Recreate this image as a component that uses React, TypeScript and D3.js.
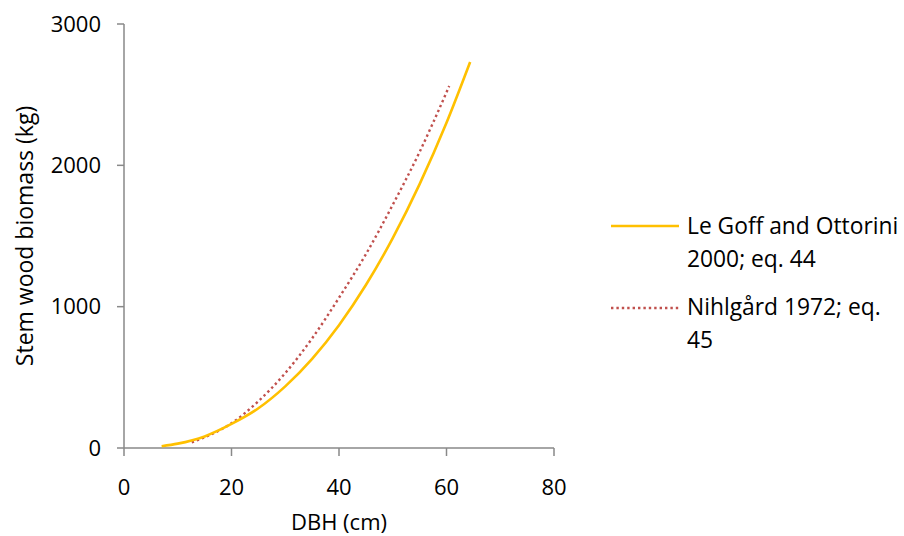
import React from "react";
import * as d3 from "d3";

const xTicks = [0, 20, 40, 60, 80];
const yTicks = [0, 1000, 2000, 3000];

const leGoffDbh = [7, 10, 15, 20, 25, 30, 35, 40, 45, 50, 55, 60, 64.4];
const leGoffBiomass = [13, 31, 82, 170, 281, 436, 631, 869, 1153, 1485, 1867, 2301, 2731];

const nihlgardDbh = [12.6, 15, 20, 25, 30, 35, 40, 45, 50, 55, 60, 60.5];
const nihlgardBiomass = [40, 76, 175, 331, 530, 776, 1063, 1371, 1721, 2095, 2517, 2561];

const seriesNames = ["Le Goff and Ottorini", "2000; eq. 44", "Nihlgård 1972; eq.", "45"];

const W = 904;
const H = 536;
const font = "'Open Sans', 'DejaVu Sans', sans-serif";

export default function App() {
  const x = d3.scaleLinear().domain([0, 80]).range([124, 554]);
  const y = d3.scaleLinear().domain([0, 3000]).range([448, 24]);
  const line = d3
    .line<[number, number]>()
    .x((d) => x(d[0]))
    .y((d) => y(d[1]))
    .curve(d3.curveMonotoneX);
  const gData: [number, number][] = leGoffDbh.map((d, i) => [d, leGoffBiomass[i]]);
  const nData: [number, number][] = nihlgardDbh.map((d, i) => [d, nihlgardBiomass[i]]);
  const axisColor = "#898989";
  const fs = 22;
  const lfs = 22.8;
  return (
    <svg
      width={W}
      height={H}
      style={{ position: "absolute", left: 0, top: 0, background: "#fff" }}
      fontFamily={font}
    >
      <rect width={W} height={H} fill="#fff" />
      {/* axes */}
      <line x1={x(0)} x2={x(0)} y1={y(3000)} y2={y(0)} stroke={axisColor} strokeWidth={1.5} />
      <line x1={x(0)} x2={x(80)} y1={y(0)} y2={y(0)} stroke={axisColor} strokeWidth={1.5} />
      {yTicks.map((t) => (
        <g key={"y" + t}>
          <line x1={x(0) - 7} x2={x(0)} y1={y(t)} y2={y(t)} stroke={axisColor} strokeWidth={1.5} />
          <text x={101} y={y(t)} dy="0.35em" textAnchor="end" fontSize={fs} fill="#000">
            {t}
          </text>
        </g>
      ))}
      {xTicks.map((t) => (
        <g key={"x" + t}>
          <line x1={x(t)} x2={x(t)} y1={y(0)} y2={y(0) + 8} stroke={axisColor} strokeWidth={1.5} />
          <text x={x(t)} y={487} dy="0.35em" textAnchor="middle" fontSize={fs} fill="#000">
            {t}
          </text>
        </g>
      ))}
      <text x={339} y={522} dy="0.35em" textAnchor="middle" fontSize={fs} fill="#000">
        DBH (cm)
      </text>
      <text
        transform={`translate(25,236) rotate(-90)`}
        dy="0.35em"
        textAnchor="middle"
        fontSize={23}
        fill="#000"
      >
        Stem wood biomass (kg)
      </text>
      {/* series */}
      <path d={line(nData) || ""} fill="none" stroke="#C0504D" strokeWidth={2.4} strokeDasharray="2.4 3" />
      <path d={line(gData) || ""} fill="none" stroke="#FFC000" strokeWidth={2.6} />
      {/* legend */}
      <line x1={611} x2={679} y1={226} y2={226} stroke="#FFC000" strokeWidth={2.6} />
      <text x={687} y={226} dy="0.35em" fontSize={lfs} fill="#000">{seriesNames[0]}</text>
      <text x={687} y={259} dy="0.35em" fontSize={lfs} fill="#000">{seriesNames[1]}</text>
      <line x1={611} x2={679} y1={308} y2={308} stroke="#C0504D" strokeWidth={2.4} strokeDasharray="2.4 3" />
      <text x={687} y={307} dy="0.35em" fontSize={lfs} fill="#000">{seriesNames[2]}</text>
      <text x={687} y={340} dy="0.35em" fontSize={lfs} fill="#000">{seriesNames[3]}</text>
    </svg>
  );
}
